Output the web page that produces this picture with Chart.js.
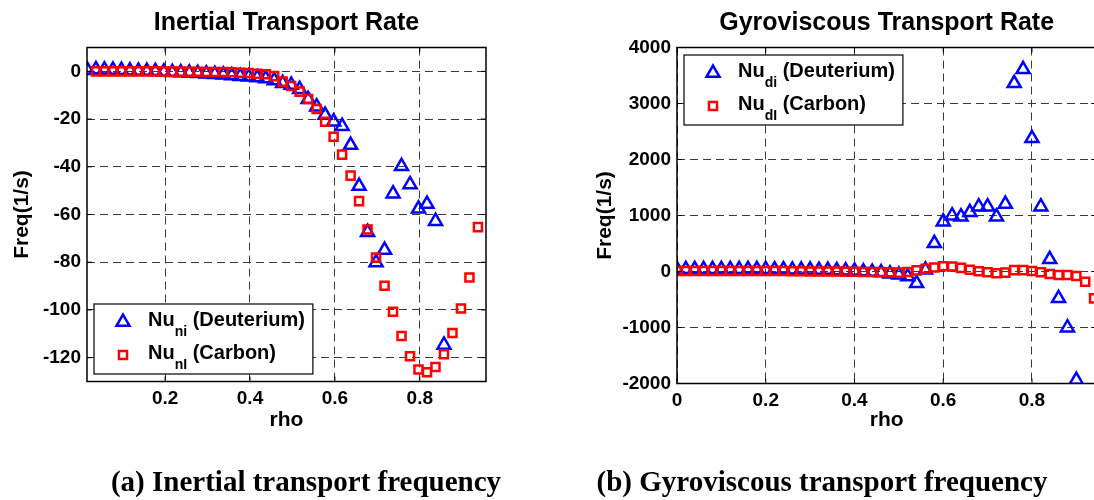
<!DOCTYPE html>
<html>
<head>
<meta charset="utf-8">
<title>Transport rates</title>
<script src="https://cdn.jsdelivr.net/npm/chart.js@4.4.0/dist/chart.umd.min.js"></script>
<style>
  html, body { margin: 0; padding: 0; background: #fff; width: 1094px; height: 500px; overflow: hidden; }
  .panel { position: absolute; top: 0; height: 500px; }
  #leftPanel { left: 0; width: 560px; }
  #rightPanel { left: 580px; width: 580px; }
  .caption {
    position: absolute; top: 465px; transform: translateX(-50%);
    font-family: "Liberation Serif", "Times New Roman", serif;
    font-weight: bold; font-size: 29px; white-space: nowrap; color: #000;
  }
</style>
</head>
<body>
<div class="panel" id="leftPanel"><canvas id="inertialChart" width="560" height="500"></canvas></div>
<div class="panel" id="rightPanel"><canvas id="gyroChart" width="580" height="500"></canvas></div>
<div class="caption" style="left:306px">(a) Inertial transport frequency</div>
<div class="caption" style="left:822px">(b) Gyroviscous transport frequency</div>

<script>
// ================= DATA =================
const rhoInertial = [0.017, 0.037, 0.057, 0.077, 0.097, 0.117, 0.137, 0.157, 0.177, 0.197,
  0.217, 0.237, 0.257, 0.277, 0.297, 0.317, 0.337, 0.357, 0.377, 0.397,
  0.417, 0.437, 0.457, 0.477, 0.497, 0.517, 0.537, 0.557, 0.577, 0.597,
  0.617, 0.637, 0.657, 0.677, 0.697, 0.717, 0.737, 0.757, 0.777, 0.797,
  0.817, 0.837, 0.857, 0.877, 0.897, 0.917, 0.937];

const nuInertialDeut = [0.5, 0.8, 0.7, 0.6, 0.5, 0.3, 0.2, 0.1, 0, -0.2,
  -0.4, -0.5, -0.6, -0.8, -1.0, -1.2, -1.4, -1.7, -2.0, -2.3,
  -2.6, -3.0, -3.8, -5.0, -5.7, -7.5, -11.7, -14.8, -18.3, -21.1,
  -23.0, -30.9, -48.1, -67.4, -80.1, -74.9, -51.3, -39.8, -47.4, -57.6,
  -55.6, -62.8, -114.7, null, null, null, null];

const nuInertialCarb = [null, 0, 0, 0, 0, 0, 0, 0, 0, -0.1,
  -0.1, -0.1, -0.2, -0.2, -0.3, -0.3, -0.3, -0.4, -0.6, -0.7,
  -1.0, -1.2, -2.0, -4.3, -6.1, -8.5, -11.6, -15.8, -21.1, -27.4,
  -34.9, -43.7, -54.4, -66.3, -78.0, -89.9, -100.8, -110.9, -119.4, -125.0,
  -126.1, -123.9, -118.6, -109.7, -99.4, -86.4, -65.3];

const rhoGyro = [0, 0.02, 0.04, 0.06, 0.08, 0.10, 0.12, 0.14, 0.16, 0.18,
  0.20, 0.22, 0.24, 0.26, 0.28, 0.30, 0.32, 0.34, 0.36, 0.38,
  0.40, 0.42, 0.44, 0.46, 0.48, 0.50, 0.52, 0.54, 0.56, 0.58,
  0.60, 0.62, 0.64, 0.66, 0.68, 0.70, 0.72, 0.74, 0.76, 0.78,
  0.80, 0.82, 0.84, 0.86, 0.88, 0.90, 0.92, 0.94];

const nuGyroDeut = [40, 40, 40, 40, 40, 40, 40, 40, 40, 40,
  40, 35, 35, 30, 30, 30, 25, 25, 20, 15,
  10, 0, -10, -20, -40, -60, -90, -210, 30, 503,
  889, 996, 979, 1057, 1157, 1157, 979, 1205, 3360, 3611,
  2379, 1157, 218, -479, -1004, -1938, null, null];

const nuGyroCarb = [10, 10, 10, 10, 10, 10, 10, 10, 10, 10,
  10, 10, 10, 5, 5, 0, 0, 0, 0, -5,
  -5, -10, -10, -10, -15, -20, -10, 20, 50, 70,
  95, 90, 65, 30, 5, -15, -30, -20, 25, 25,
  10, -15, -45, -62, -62, -80, -182, -480];

const inertialXTicks = [0.2, 0.4, 0.6, 0.8];
const inertialYTicks = [0, -20, -40, -60, -80, -100, -120];
const gyroXTicks = [0, 0.2, 0.4, 0.6, 0.8];
const gyroYTicks = [4000, 3000, 2000, 1000, 0, -1000, -2000];

const inertialLegend = [["Nu", "ni", " (Deuterium)"], ["Nu", "nI", " (Carbon)"]];
const gyroLegend = [["Nu", "di", " (Deuterium)"], ["Nu", "dI", " (Carbon)"]];

// ================= STYLE =================
const FONT = "'Liberation Sans', Arial, Helvetica, sans-serif";
const BLUE = "#0000ff";
const RED = "#ff0000";
const TRI = { pointStyle: "triangle", radius: 7.5 };
const SQR = { pointStyle: "rect", radius: 5.7 };
const MARK_W = 2.5;

function toPoints(xs, ys) {
  return xs.map((x, i) => ({ x, y: ys[i] })).filter(p => p.y !== null);
}

// box, inward ticks and legend with subscripts
const framePlugin = {
  id: "frame",
  afterDatasetsDraw(chart, args, opts) {
    const { ctx, chartArea: a, scales: { x, y } } = chart;
    ctx.save();
    ctx.strokeStyle = "#000";
    ctx.lineWidth = 1;
    ctx.setLineDash([]);
    ctx.beginPath();
    x.ticks.forEach(t => {
      const px = x.getPixelForValue(t.value);
      ctx.moveTo(px, a.bottom); ctx.lineTo(px, a.bottom - 5);
      ctx.moveTo(px, a.top); ctx.lineTo(px, a.top + 5);
    });
    y.ticks.forEach(t => {
      const py = y.getPixelForValue(t.value);
      ctx.moveTo(a.left, py); ctx.lineTo(a.left + 5, py);
      ctx.moveTo(a.right, py); ctx.lineTo(a.right - 5, py);
    });
    ctx.stroke();
    ctx.lineWidth = 1.5;
    ctx.strokeRect(a.left, a.top, a.right - a.left, a.bottom - a.top);

    // legend
    const mainFont = "bold 20px " + FONT;
    const subFont = "bold 14px " + FONT;
    let textW = 0;
    opts.labels.forEach(l => {
      ctx.font = mainFont;
      let w = ctx.measureText(l[0]).width + ctx.measureText(l[2]).width;
      ctx.font = subFont;
      w += ctx.measureText(l[1]).width;
      textW = Math.max(textW, w);
    });
    const boxW = 54 + textW + 8;
    const boxH = 70;
    const bx = a.left + 7;
    const by = opts.bottom ? a.bottom - 7.5 - boxH : a.top + 7.5;
    ctx.fillStyle = "#fff";
    ctx.fillRect(bx, by, boxW, boxH);
    ctx.lineWidth = 1.2;
    ctx.strokeRect(bx, by, boxW, boxH);

    const styles = [{ ...TRI, color: BLUE }, { ...SQR, color: RED }];
    opts.labels.forEach((l, i) => {
      const ry = by + 18 + i * 33;
      const st = styles[i];
      ctx.strokeStyle = st.color;
      ctx.fillStyle = "rgba(0,0,0,0)";
      ctx.lineWidth = MARK_W;
      Chart.helpers.drawPoint(ctx, { pointStyle: st.pointStyle, radius: st.radius, borderWidth: MARK_W, rotation: 0 }, bx + 29, ry);
      ctx.fillStyle = "#000";
      ctx.textBaseline = "alphabetic";
      ctx.textAlign = "left";
      let tx = bx + 54;
      ctx.font = mainFont;
      ctx.fillText(l[0], tx, ry + 4);
      tx += ctx.measureText(l[0]).width;
      ctx.font = subFont;
      ctx.fillText(l[1], tx, ry + 14);
      tx += ctx.measureText(l[1]).width;
      ctx.font = mainFont;
      ctx.fillText(l[2], tx, ry + 4);
    });
    ctx.restore();
  }
};

function makeChart(canvas, cfg) {
  return new Chart(canvas, {
    type: "scatter",
    data: {
      datasets: [
        {
          label: cfg.labels[0].join(""),
          data: toPoints(cfg.rho, cfg.deut),
          borderColor: BLUE,
          backgroundColor: "rgba(0,0,0,0)",
          pointStyle: TRI.pointStyle,
          pointRadius: TRI.radius,
          pointBorderWidth: MARK_W,
          order: 1
        },
        {
          label: cfg.labels[1].join(""),
          data: toPoints(cfg.rho, cfg.carb),
          borderColor: RED,
          backgroundColor: "rgba(0,0,0,0)",
          pointStyle: SQR.pointStyle,
          pointRadius: SQR.radius,
          pointBorderWidth: MARK_W,
          order: 0
        }
      ]
    },
    options: {
      responsive: false,
      animation: false,
      layout: { padding: cfg.padding },
      plugins: {
        legend: { display: false },
        tooltip: { enabled: false },
        title: {
          display: true,
          text: cfg.title,
          fullSize: false,
          color: "#000",
          font: { family: FONT, size: 25, weight: "bold" },
          padding: { top: 8, bottom: 9.5 }
        },
        frame: { labels: cfg.labels, bottom: cfg.legendBottom }
      },
      scales: {
        x: {
          type: "linear",
          min: cfg.xMin,
          max: cfg.xMax,
          afterFit: s => { s.height = 60; },
          afterBuildTicks: s => { s.ticks = cfg.xTicks.map(v => ({ value: v })); },
          grid: { color: "#3a3a3a", lineWidth: 1, drawTicks: false },
          border: { display: false, dash: [8, 5] },
          ticks: {
            color: "#000", padding: 6, maxRotation: 0,
            font: { family: FONT, size: 19, weight: "bold" },
            callback: v => String(v)
          },
          title: {
            display: true, text: "rho", color: "#000",
            font: { family: FONT, size: 21, weight: "bold" },
            padding: { top: 0, bottom: cfg.xTitlePad }
          }
        },
        y: {
          type: "linear",
          min: cfg.yMin,
          max: cfg.yMax,
          afterFit: s => { s.width = cfg.yWidth; },
          afterBuildTicks: s => { s.ticks = cfg.yTicks.map(v => ({ value: v })); },
          grid: { color: "#3a3a3a", lineWidth: 1, drawTicks: false },
          border: { display: false, dash: [8, 5] },
          ticks: {
            color: "#000", padding: 6,
            font: { family: FONT, size: 19, weight: "bold" },
            callback: v => String(v)
          },
          title: {
            display: true, text: "Freq(1/s)", color: "#000",
            font: { family: FONT, size: 21, weight: "bold" },
            padding: { top: cfg.yTitlePad, bottom: 0 }
          }
        }
      }
    },
    plugins: [framePlugin]
  });
}

// ================= CHARTS =================
makeChart(document.getElementById("inertialChart"), {
  title: "Inertial Transport Rate",
  rho: rhoInertial, deut: nuInertialDeut, carb: nuInertialCarb,
  labels: inertialLegend, legendBottom: true,
  xMin: 0.016, xMax: 0.956, xTicks: inertialXTicks,
  yMin: -130, yMax: 10, yTicks: inertialYTicks,
  yWidth: 87, yTitlePad: 9.4, xTitlePad: 8.9,
  padding: { left: 0, right: 74, top: 0, bottom: 58.5 }
});

makeChart(document.getElementById("gyroChart"), {
  title: "Gyroviscous Transport Rate",
  rho: rhoGyro, deut: nuGyroDeut, carb: nuGyroCarb,
  labels: gyroLegend, legendBottom: false,
  xMin: 0, xMax: 0.945, xTicks: gyroXTicks,
  yMin: -2000, yMax: 4000, yTicks: gyroYTicks,
  yWidth: 97, yTitlePad: 12.4, xTitlePad: 10.9,
  padding: { left: 0, right: 63.7, top: 0, bottom: 56.5 }
});
</script>
</body>
</html>
